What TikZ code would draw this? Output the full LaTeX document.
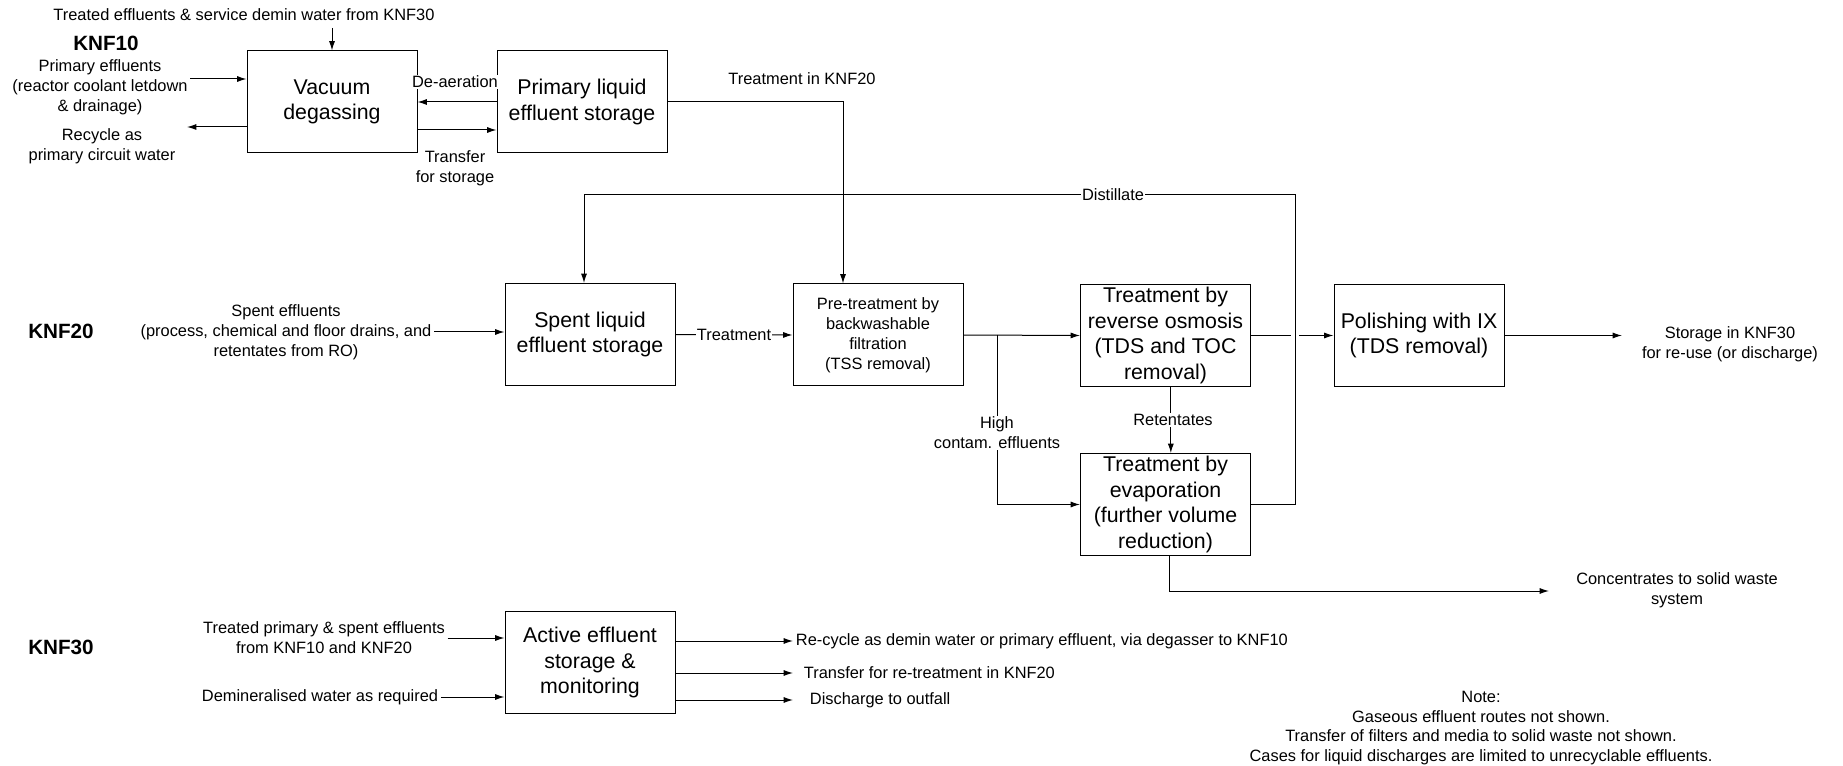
\documentclass[tikz,border=0pt]{standalone}
\usepackage{fontspec}
\setmainfont{Liberation Sans}
\usetikzlibrary{arrows.meta}

\begin{document}
\begin{tikzpicture}[x=0.75pt, y=-0.75pt,
  box/.style={draw, line width=0.75pt, minimum width=127.5pt, minimum height=76.5pt,
    align=center, inner sep=0pt, font=\fontsize{16}{19.3}\selectfont},
  lbl/.style={align=center, inner sep=2pt, font=\fontsize{12.3}{15}\selectfont},
  area/.style={font=\fontsize{15.5}{18}\selectfont\bfseries},
  flow/.style={-{Latex[length=7pt,width=4.5pt]}, line width=0.75pt},
  gap/.style={fill=white, inner sep=1pt}]
  \useasboundingbox (0,0) rectangle (1843,766);

  % KNF10
  \node[area] (k10) at (106,43) {KNF10};
  \node[lbl] (topin) at (244,15) {Treated effluents \& service demin water from KNF30};
  \node[box] (vac) at (332,102) {Vacuum\\degassing};
  \node[box] (prim) at (582,102) {Primary liquid\\effluent storage};
  \node[lbl] (pe) at (100,87) {Primary effluents\\(reactor coolant letdown\\\& drainage)};
  \node[lbl] (rec) at (102,146) {Recycle as\\primary circuit water};
  \coordinate (pein) at ([yshift=6pt]pe.east);
  \coordinate (recout) at (187,127);

  \draw[flow, shorten <=3pt] (topin.south -| vac.north) -- (vac.north);
  \draw[flow] (pein) -- (pein -| vac.west);
  \draw[flow] (vac.west |- recout) -- (recout);
  \draw[flow] (prim.west) -- (vac.east);
  \draw[flow] ([yshift=-21pt]vac.east) -- ([yshift=-21pt]prim.west);
  \node[lbl, gap] (deair) at (455,82) {De-aeration};
  \node[lbl] (xfer) at (455,168) {Transfer\\for storage};

  % KNF20
  \node[area] (k20) at (61,331) {KNF20};
  \node[lbl] (sp) at (286,332) {Spent effluents\\(process, chemical and floor drains, and\\retentates from RO)};
  \node[box] (spent) at (590,334.5) {Spent liquid\\effluent storage};
  \node[box, font=\fontsize{12.3}{15}\selectfont] (pre) at (878,335)
    {Pre-treatment by\\backwashable\\filtration\\(TSS removal)};
  \node[box] (ro) at (1165.5,335.5) {Treatment by\\reverse osmosis\\(TDS and TOC\\removal)};
  \node[box] (evap) at (1165.5,504.5) {Treatment by\\evaporation\\(further volume\\reduction)};
  \node[box] (pol) at (1419,335.5) {Polishing with IX\\(TDS removal)};
  \coordinate (hc) at (997,335);
  \coordinate (dtop) at (1295,195);
  \coordinate (conc) at (1549,591);
  \coordinate (stor) at (1622,335.5);

  \draw[flow] (prim.east) -| ([xshift=-26.25pt]pre.north);
  \node[lbl] (t20) at (802,79) {Treatment in KNF20};
  \draw[flow] (sp.east) -- (sp.east -| spent.west);
  \draw[flow] (spent.east) -- (pre.west);
  \node[lbl, gap] (trt) at (734,335) {Treatment};
  \draw[flow] (pre.east) -- (ro.west);
  \draw[flow] (hc) |- (evap.west);
  \node[lbl, gap] (high) at (997,433) {High\\contam. effluents};
  \draw[flow] ([xshift=4pt]ro.south) -- ([xshift=4pt]evap.north);
  \node[lbl, gap] (ret) at (1173,420) {Retentates};
  \draw[flow] (ro.east) -- (pol.west);
  \draw[white, line width=2.5pt] ([xshift=-3pt]dtop |- ro.east) -- ([xshift=3pt]dtop |- ro.east);
  \draw[flow] (evap.east) -| (dtop) -| ([xshift=-4.5pt]spent.north);
  \node[lbl, gap] (dist) at (1113,195) {Distillate};
  \draw[flow] ([xshift=3pt]evap.south) |- (conc);
  \node[lbl] (concl) at (1677,590) {Concentrates to solid waste\\system};
  \draw[flow] (pol.east) -- (stor);
  \node[lbl] (storl) at (1730,344) {Storage in KNF30\\for re-use (or discharge)};

  % KNF30
  \node[area] (k30) at (61,647) {KNF30};
  \node[box] (act) at (590,662.5) {Active effluent\\storage \&\\monitoring};
  \node[lbl] (tpse) at (324,638) {Treated primary \& spent effluents\\from KNF10 and KNF20};
  \node[lbl] (demin) at (320,697) {Demineralised water as required};
  \draw[flow] (tpse.east) -- (tpse.east -| act.west);
  \draw[flow] (demin.east) -- (demin.east -| act.west);

  \node[lbl, anchor=west] (recyc) at (793,641)
    {Re-cycle as demin water or primary effluent, via degasser to KNF10};
  \node[lbl, anchor=west, inner xsep=8pt] (retr) at (793,673) {Transfer for re-treatment in KNF20};
  \node[lbl, anchor=west, inner xsep=12.5pt] (disch) at (793,700) {Discharge to outfall};
  \draw[flow] (act.east |- recyc.west) -- (recyc.west);
  \draw[flow] (act.east |- retr.west) -- (retr.west);
  \draw[flow] (act.east |- disch.west) -- (disch.west);

  % Notes
  \node[lbl, font=\fontsize{12.3}{14.8}\selectfont] (note) at (1481,728)
    {Note:\\Gaseous effluent routes not shown.\\Transfer of filters and media to solid waste not shown.\\Cases for liquid discharges are limited to unrecyclable effluents.};
\end{tikzpicture}
\end{document}
